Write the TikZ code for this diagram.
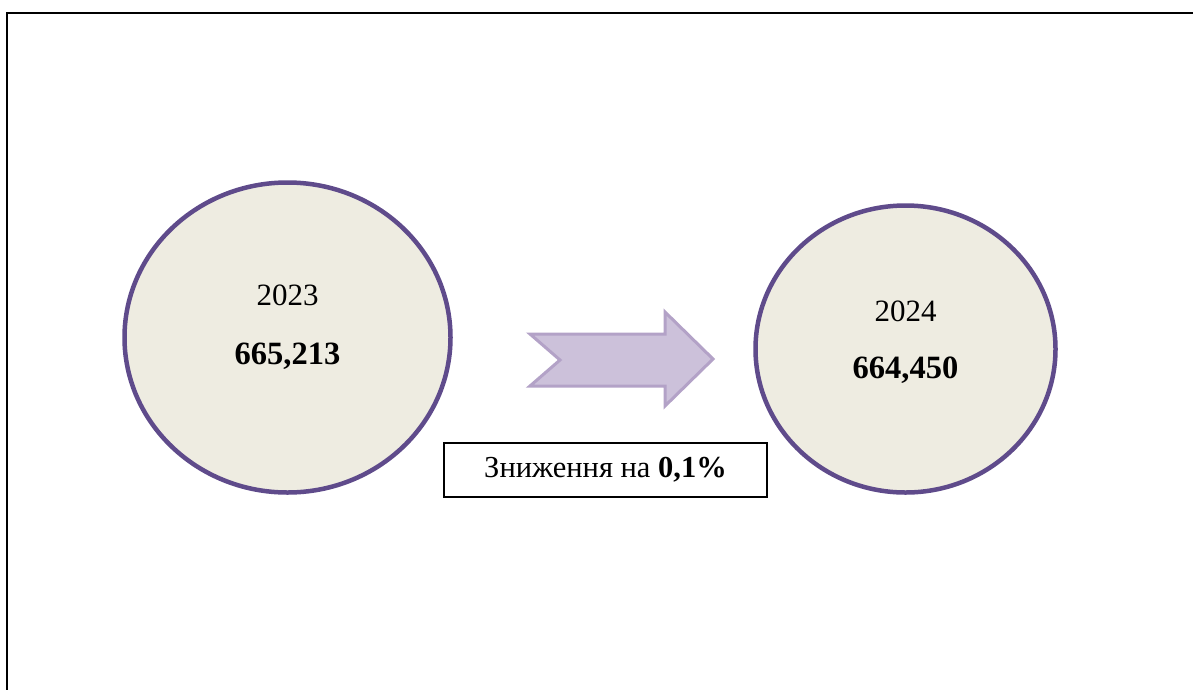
\documentclass[tikz,border=0pt]{standalone}
\usepackage{fontspec}
\setmainfont{Liberation Serif}
\usetikzlibrary{shapes.geometric}
\definecolor{ringpurple}{HTML}{5F4B8B}
\definecolor{discfill}{HTML}{EEECE1}
\definecolor{arrowfill}{HTML}{CCC1DA}
\definecolor{arrowedge}{HTML}{B3A2C7}
\tikzset{
  disc/.style={ellipse, draw=ringpurple, fill=discfill, line width=4.5pt, inner sep=0pt},
  yeartext/.style={font=\fontsize{31}{37}\selectfont, inner sep=0pt},
  valuetext/.style={font=\fontsize{32.5}{38}\selectfont\bfseries, inner sep=0pt},
  notebox/.style={draw=black, line width=2pt, fill=white, minimum width=323pt, minimum height=54pt, inner sep=0pt, font=\fontsize{30.5}{36}\selectfont},
  frameline/.style={draw=black, line width=1.8pt}
}
\begin{document}
\begin{tikzpicture}[x=1pt,y=-1pt]
\useasboundingbox (0,0) rectangle (1193,689);
\clip (0,0) rectangle (1193,689);
\fill[white] (0,0) rectangle (1193,689);
\draw[frameline] (7,13) rectangle (1260,760);
% circles
\node[disc, minimum width=326pt, minimum height=310pt] (c1) at (287.5,337.5) {};
\node[disc, minimum width=300pt, minimum height=287pt] (c2) at (905.5,349) {};
\node[yeartext] (y1) at (287.5,295) {2023};
\node[valuetext] (v1) at (287.5,356) {665,213};
\node[yeartext] (y2) at (905.5,311) {2024};
\node[valuetext] (v2) at (905.5,370) {664,450};
% arrow
\draw[fill=arrowfill, draw=arrowedge, line width=3pt, line join=miter]
  (530,334) -- (665,334) -- (665,312) -- (713,359) -- (665,406) -- (665,386)
  -- (530,386) -- (560,360) -- cycle;
% note box
\node[notebox] (note) at (605.5,470) {Зниження на \textbf{0,1\%}};
\end{tikzpicture}
\end{document}
